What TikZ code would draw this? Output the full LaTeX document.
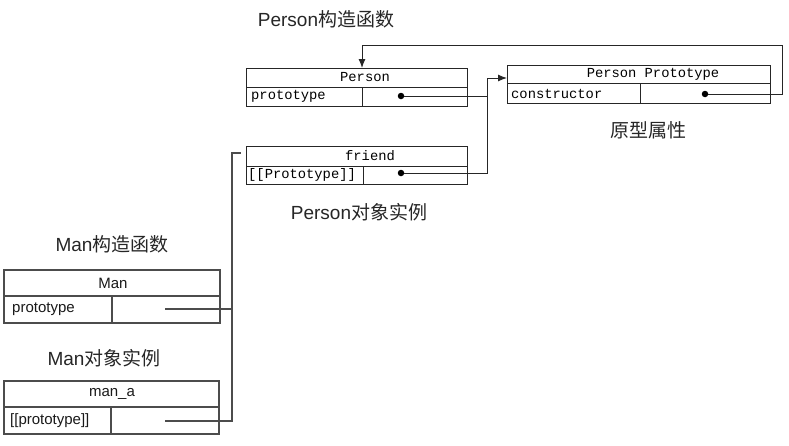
\documentclass[tikz,border=0pt]{standalone}
\usepackage{fontspec}
\setmainfont{Liberation Sans}
\setmonofont{Liberation Mono}
\newfontfamily\cjk{Noto Sans CJK SC}
\usetikzlibrary{arrows.meta}
\tikzset{
  cell/.style={draw=black!85, line width=1pt, inner sep=0pt, outer sep=0pt, anchor=north west},
  mcell/.style={draw=black!70, line width=1.1pt, inner sep=0pt, outer sep=0pt, anchor=north west},
  mono/.style={font=\fontsize{13.8}{15}\selectfont\ttfamily, text=black, inner sep=0pt},
  sans/.style={font=\fontsize{15}{17}\selectfont, text=black!90, inner sep=0pt},
  lab/.style={font=\fontsize{19}{22}\selectfont, text=black!85, inner sep=0pt},
  dot/.style={circle, fill=black, inner sep=0pt, minimum size=6.5pt},
  conn/.style={draw=black!85, line width=1pt},
  mconn/.style={draw=black!70, line width=1.1pt},
  tip/.style={-{Latex[length=9pt,width=7pt]}}
}
\begin{document}
\begin{tikzpicture}[x=1pt,y=-1pt]
\useasboundingbox (0,0) rectangle (789,445);
% Person constructor
\node[cell, minimum width=221pt, minimum height=19pt] (personhead) at (246,68) {};
\node[cell, minimum width=116pt, minimum height=19pt] (personname) at (246,87) {};
\node[cell, minimum width=105pt, minimum height=19pt] (personval) at (362,87) {};
\node[mono] (personlbl) at (365,77) {Person};
\node[mono, anchor=west] (personproto) at (251,96.5) {prototype};
\node[dot] (d1) at (401,96) {};
% friend
\node[cell, minimum width=221pt, minimum height=20pt] (friendhead) at (246,146) {};
\node[cell, minimum width=117pt, minimum height=18pt] (friendname) at (246,166) {};
\node[cell, minimum width=104pt, minimum height=18pt] (friendval) at (363,166) {};
\node[mono] (friendlbl) at (370,155.5) {friend};
\node[mono, anchor=west] (friendproto) at (248,175) {[[Prototype]]};
\node[dot] (d2) at (401,173) {};
% Person Prototype
\node[cell, minimum width=263pt, minimum height=18pt] (pphead) at (507,65) {};
\node[cell, minimum width=133pt, minimum height=20pt] (ppname) at (507,83) {};
\node[cell, minimum width=130pt, minimum height=20pt] (ppval) at (640,83) {};
\node[mono] (pplbl) at (653,74.5) {Person Prototype};
\node[mono, anchor=west] (ppcons) at (511,93.5) {constructor};
\node[dot] (d3) at (705,94) {};
% Man
\node[mcell, minimum width=216pt, minimum height=26pt] (manhead) at (4,270) {};
\node[mcell, minimum width=108pt, minimum height=27pt] (manname) at (4,296) {};
\node[mcell, minimum width=108pt, minimum height=27pt] (manval) at (112,296) {};
\node[sans] (manlbl) at (113,283) {Man};
\node[sans, anchor=west] (manproto) at (12,309.5) {prototype};
% man_a
\node[mcell, minimum width=215pt, minimum height=26pt] (mahead) at (4,381) {};
\node[mcell, minimum width=107pt, minimum height=27pt] (maname) at (4,407) {};
\node[mcell, minimum width=108pt, minimum height=27pt] (maval) at (111,407) {};
\node[sans] (malbl) at (112,394) {man\_a};
\node[sans, anchor=west] (maproto) at (10,421) {[[prototype]]};
% labels
\node[lab] (t1) at (326,19) {Person{\cjk 构造函数}};
\node[lab] (t2) at (648,130) {\cjk 原型属性};
\node[lab] (t3) at (359,212) {Person{\cjk 对象实例}};
\node[lab] (t4) at (112,244) {Man{\cjk 构造函数}};
\node[lab] (t5) at (104,358) {Man{\cjk 对象实例}};
% connectors
\coordinate (bend) at (487,78);
\draw[conn] (d1.east) -- (d1 -| bend);
\draw[conn, tip] (d2.east) -| (bend) -- (pphead.west |- bend);
\coordinate (c1) at (782,45);
\coordinate (c2) at (362,45);
\draw[conn, tip] (d3.east) -| (c1) -- (c2) -- (c2 |- personhead.north);
\coordinate (ms1) at (165,309);
\coordinate (ms2) at (165,421);
\coordinate (mj) at (232,153);
\coordinate (mend) at (241,153);
\draw[mconn] (ms1) -- (ms1 -| mj);
\draw[mconn] (ms2) -| (mj) -- (mend);
\end{tikzpicture}
\end{document}
